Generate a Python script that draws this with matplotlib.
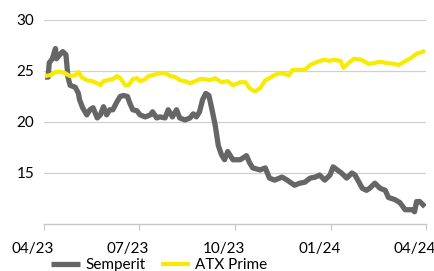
import matplotlib
matplotlib.use("Agg")
import matplotlib.pyplot as plt
import matplotlib.dates as mdates
import matplotlib.transforms as mtransforms
import pandas as pd

semperit_dates = ['2023-04-02','2023-04-05','2023-04-06','2023-04-09','2023-04-12','2023-04-13','2023-04-16',
    '2023-04-19','2023-04-22','2023-04-24','2023-04-26','2023-05-01','2023-05-04','2023-05-05','2023-05-08',
    '2023-05-12','2023-05-15','2023-05-18','2023-05-22','2023-05-25','2023-05-28','2023-05-31','2023-06-03',
    '2023-06-06','2023-06-10','2023-06-13','2023-06-16','2023-06-20','2023-06-22','2023-06-25','2023-06-29',
    '2023-07-02','2023-07-07','2023-07-12','2023-07-14','2023-07-18','2023-07-21','2023-07-26','2023-07-29',
    '2023-08-02','2023-08-06','2023-08-09','2023-08-14','2023-08-19','2023-08-22','2023-08-25','2023-08-28',
    '2023-08-31','2023-09-03','2023-09-06','2023-09-09','2023-09-12','2023-09-15','2023-09-18','2023-09-21',
    '2023-09-24','2023-09-29','2023-10-06','2023-10-12','2023-10-15','2023-10-18','2023-10-25','2023-10-30',
    '2023-11-03','2023-11-08','2023-11-15','2023-11-20','2023-11-27','2023-12-02','2023-12-07','2023-12-12',
    '2023-12-17','2023-12-21','2023-12-26','2023-12-31','2024-01-03','2024-01-07','2024-01-11','2024-01-16',
    '2024-01-21','2024-01-24','2024-01-31','2024-02-04','2024-02-07','2024-02-12','2024-02-17','2024-02-22',
    '2024-02-25','2024-03-02','2024-03-07','2024-03-12','2024-03-19','2024-03-21','2024-03-23','2024-03-26',
    '2024-03-29','2024-03-31']
semperit_values = [24.4,24.4,25.8,26.2,27.2,26.2,26.6,
    26.9,26.6,24.4,23.6,23.4,22.8,22.2,21.4,
    20.7,21.2,21.4,20.4,20.7,21.5,20.7,21.2,
    21.2,22.0,22.5,22.6,22.5,21.9,21.2,21.1,
    20.7,20.5,20.7,21.0,20.4,20.5,20.4,21.2,
    20.5,21.2,20.4,20.2,20.4,20.8,20.5,21.0,
    22.2,22.8,22.6,21.2,19.7,17.7,16.8,16.3,
    17.1,16.3,16.3,16.7,16.0,15.5,15.3,15.5,
    14.5,14.3,14.6,14.3,13.8,14.0,14.1,14.5,
    14.6,14.8,14.3,14.8,15.6,15.3,15.0,14.5,
    15.0,14.8,13.5,13.3,13.5,14.0,13.5,13.3,
    12.6,12.4,12.1,11.4,11.4,11.2,12.2,12.2,
    11.9,11.7]

atx_dates = ['2023-04-02','2023-04-07','2023-04-12','2023-04-16','2023-04-21','2023-04-26','2023-05-01',
    '2023-05-04','2023-05-07','2023-05-12','2023-05-17','2023-05-22','2023-05-25','2023-05-28','2023-06-01',
    '2023-06-06','2023-06-10','2023-06-13','2023-06-18','2023-06-21','2023-06-25','2023-06-29','2023-07-02',
    '2023-07-07','2023-07-10','2023-07-14','2023-07-18','2023-07-23','2023-07-28','2023-07-31','2023-08-05',
    '2023-08-09','2023-08-14','2023-08-19','2023-08-24','2023-08-28','2023-09-02','2023-09-07','2023-09-12',
    '2023-09-18','2023-09-24','2023-09-29','2023-10-06','2023-10-11','2023-10-15','2023-10-20','2023-10-25',
    '2023-10-30','2023-11-03','2023-11-08','2023-11-13','2023-11-17','2023-11-22','2023-11-25','2023-12-02',
    '2023-12-07','2023-12-12','2023-12-19','2023-12-25','2023-12-31','2024-01-03','2024-01-10','2024-01-13',
    '2024-01-18','2024-01-23','2024-01-30','2024-02-06','2024-02-12','2024-02-17','2024-02-23','2024-03-01',
    '2024-03-06','2024-03-11','2024-03-18','2024-03-23','2024-03-27','2024-03-31']
atx_values = [24.5,24.6,24.9,24.9,24.8,24.5,24.6,
    24.9,24.4,24.1,24.0,23.8,23.6,24.0,24.1,
    24.2,24.5,24.3,23.6,23.6,24.2,24.3,24.0,
    24.2,24.5,24.6,24.7,24.8,24.7,24.5,24.4,
    24.1,24.0,23.8,24.0,24.2,24.2,24.1,24.3,
    23.9,24.0,23.6,23.9,23.9,23.3,23.0,23.3,
    24.1,24.3,24.6,24.8,24.7,24.6,25.1,25.1,
    25.1,25.6,25.9,26.1,26.0,26.1,26.0,25.3,
    25.8,26.2,26.1,25.7,25.8,25.9,25.8,25.7,
    25.6,25.9,26.3,26.7,26.8,27.0]

series_labels = ['Semperit', 'ATX Prime']
x_ticks = ['2023-04-01', '2023-07-01', '2023-10-01', '2024-01-01', '2024-04-01']
y_ticks = [15, 20, 25, 30]

plt.rcParams['font.family'] = ['Lato', 'DejaVu Sans']

fig = plt.figure(figsize=(4.35, 2.71), dpi=100)
ax = fig.add_axes([44/435, 1-224/271, 382/435, 204/271])

l1, = ax.plot(pd.to_datetime(semperit_dates), semperit_values, color='#666666', lw=3.8,
              solid_joinstyle='round', solid_capstyle='butt', label=series_labels[0])
l2, = ax.plot(pd.to_datetime(atx_dates), atx_values, color='#F7EC00', lw=3.0,
              solid_joinstyle='round', solid_capstyle='butt', label=series_labels[1])

ax.set_ylim(10, 30)
ax.set_xlim(pd.Timestamp(x_ticks[0]), pd.Timestamp(x_ticks[-1]))
ax.set_yticks(y_ticks)
ax.set_xticks(pd.to_datetime(x_ticks))
ax.xaxis.set_major_formatter(mdates.DateFormatter('%m/%y'))
ax.grid(axis='y', color='#D0D0D0', lw=0.9)
ax.set_axisbelow(True)
for s in ['top', 'right', 'left']:
    ax.spines[s].set_visible(False)
ax.spines['bottom'].set_color('#C8C8C8')
ax.spines['bottom'].set_linewidth(1.0)
ax.tick_params(axis='y', length=0, pad=7, labelsize=11, colors='#000000')
ax.tick_params(axis='x', length=4, color='#C8C8C8', pad=9, labelsize=11)

shift = mtransforms.ScaledTranslation(-11/100, 0, fig.dpi_scale_trans)
for lbl in ax.get_xticklabels():
    lbl.set_transform(lbl.get_transform() + shift)

fig.legend(handles=[l1, l2], loc='center left', bbox_to_anchor=(51/435, 1-265/271),
           ncol=2, frameon=False, fontsize=11, handlelength=1.9, handletextpad=0.35,
           columnspacing=1.0, borderaxespad=0, borderpad=0)

fig.savefig('out.png', dpi=100)
